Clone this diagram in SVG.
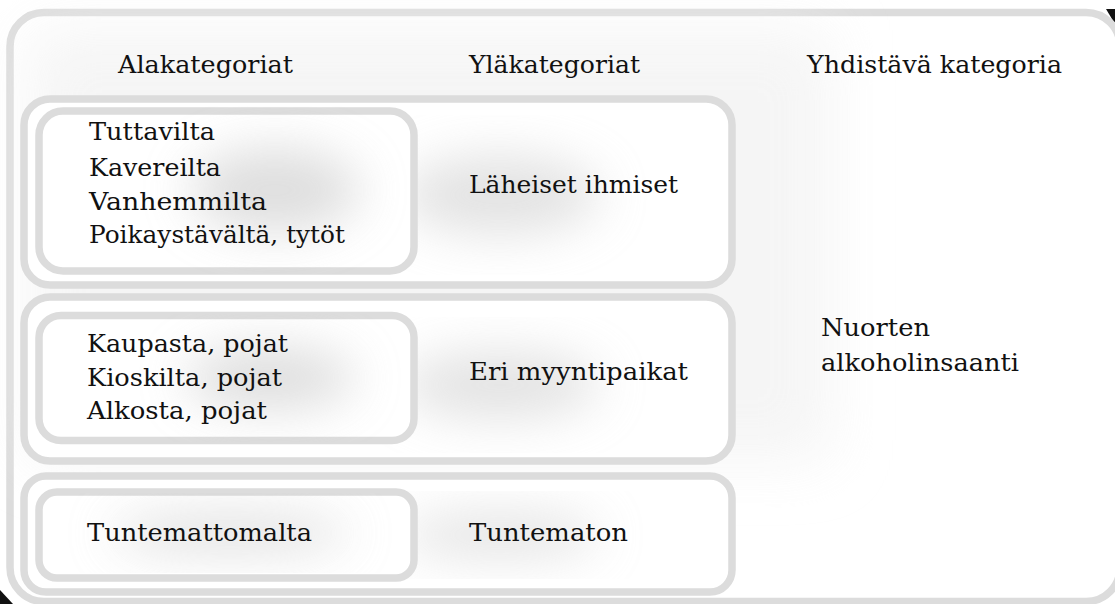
<svg xmlns="http://www.w3.org/2000/svg" width="1115" height="604" viewBox="0 0 1115 604">
  <defs>
    <filter id="soft" x="-50%" y="-50%" width="200%" height="200%">
      <feGaussianBlur stdDeviation="24"/>
    </filter>
    <filter id="haze" x="-20%" y="-20%" width="140%" height="140%">
      <feGaussianBlur stdDeviation="30"/>
    </filter>
    <style>
      .frame { fill: #ffffff; stroke: #dcdcdc; stroke-width: 7.5; }
      .box { fill: #ffffff; stroke: #dcdcdc; stroke-width: 7.5; }
      .blob { fill: #d0d0d0; filter: url(#soft); }
      .lbl { font-family: "DejaVu Serif", "Liberation Serif", serif; font-size: 25px; fill: #111111; }
    </style>
  </defs>

  <!-- page background -->
  <rect x="0" y="0" width="1115" height="604" fill="#ffffff"/>
  <!-- dark corner wedges -->
  <polygon points="1106,9 1115,9 1115,24" fill="#111111"/>
  <polygon points="0,590 0,604 13,604" fill="#111111"/>

  <!-- outer frame -->
  <g id="frame">
    <rect class="frame" x="10" y="12.5" width="1110" height="589" rx="34"/>
    <rect x="30" y="30" width="800" height="430" fill="#f3f3f3" filter="url(#haze)" opacity="0.8"/>
  </g>

  <!-- column headers -->
  <g id="headers">
    <text class="lbl" x="118" y="73" textLength="175" lengthAdjust="spacingAndGlyphs">Alakategoriat</text>
    <text class="lbl" x="469" y="73" textLength="171" lengthAdjust="spacingAndGlyphs">Yläkategoriat</text>
    <text class="lbl" x="807" y="73" textLength="255" lengthAdjust="spacingAndGlyphs">Yhdistävä kategoria</text>
  </g>

  <!-- group 1: Läheiset ihmiset -->
  <g id="group-laheiset">
    <rect class="box" x="24" y="99" width="708" height="186" rx="26"/>
    <ellipse class="blob" cx="500" cy="195" rx="100" ry="40" opacity="0.6"/>
    <text class="lbl" x="469" y="193" textLength="209" lengthAdjust="spacingAndGlyphs">Läheiset ihmiset</text>
  </g>
  <g id="sub-laheiset">
    <rect class="box" x="39" y="111" width="375" height="160" rx="24"/>
    <ellipse class="blob" cx="275" cy="190" rx="85" ry="42" opacity="0.7"/>
    <text class="lbl" x="89" y="140" textLength="126" lengthAdjust="spacingAndGlyphs">Tuttavilta</text>
    <text class="lbl" x="89" y="176" textLength="132" lengthAdjust="spacingAndGlyphs">Kavereilta</text>
    <text class="lbl" x="89" y="210" textLength="178" lengthAdjust="spacingAndGlyphs">Vanhemmilta</text>
    <text class="lbl" x="89" y="243" textLength="256" lengthAdjust="spacingAndGlyphs">Poikaystävältä, tytöt</text>
  </g>

  <!-- group 2: Eri myyntipaikat -->
  <g id="group-myyntipaikat">
    <rect class="box" x="24" y="297" width="708" height="164" rx="26"/>
    <ellipse class="blob" cx="500" cy="385" rx="100" ry="34" opacity="0.6"/>
    <text class="lbl" x="469" y="380" textLength="219" lengthAdjust="spacingAndGlyphs">Eri myyntipaikat</text>
  </g>
  <g id="sub-myyntipaikat">
    <rect class="box" x="39" y="315.5" width="375" height="125" rx="22"/>
    <ellipse class="blob" cx="270" cy="378" rx="85" ry="32" opacity="0.7"/>
    <text class="lbl" x="87" y="352" textLength="201" lengthAdjust="spacingAndGlyphs">Kaupasta, pojat</text>
    <text class="lbl" x="87" y="386" textLength="195" lengthAdjust="spacingAndGlyphs">Kioskilta, pojat</text>
    <text class="lbl" x="87" y="419" textLength="180" lengthAdjust="spacingAndGlyphs">Alkosta, pojat</text>
  </g>

  <!-- group 3: Tuntematon -->
  <g id="group-tuntematon">
    <rect class="box" x="24" y="476" width="708" height="116" rx="22"/>
    <ellipse class="blob" cx="500" cy="535" rx="100" ry="22" opacity="0.6"/>
    <text class="lbl" x="469" y="541" textLength="159" lengthAdjust="spacingAndGlyphs">Tuntematon</text>
  </g>
  <g id="sub-tuntematon">
    <rect class="box" x="39" y="492" width="375" height="86" rx="18"/>
    <ellipse class="blob" cx="230" cy="533" rx="120" ry="20" opacity="0.65"/>
    <text class="lbl" x="87" y="541" textLength="225" lengthAdjust="spacingAndGlyphs">Tuntemattomalta</text>
  </g>

  <!-- combining category -->
  <g id="yhdistava">
    <text class="lbl" x="821" y="336" textLength="109" lengthAdjust="spacingAndGlyphs">Nuorten</text>
    <text class="lbl" x="821" y="371" textLength="198" lengthAdjust="spacingAndGlyphs">alkoholinsaanti</text>
  </g>

  <!-- no connectors in this figure -->
  <g id="connectors"/>
</svg>
